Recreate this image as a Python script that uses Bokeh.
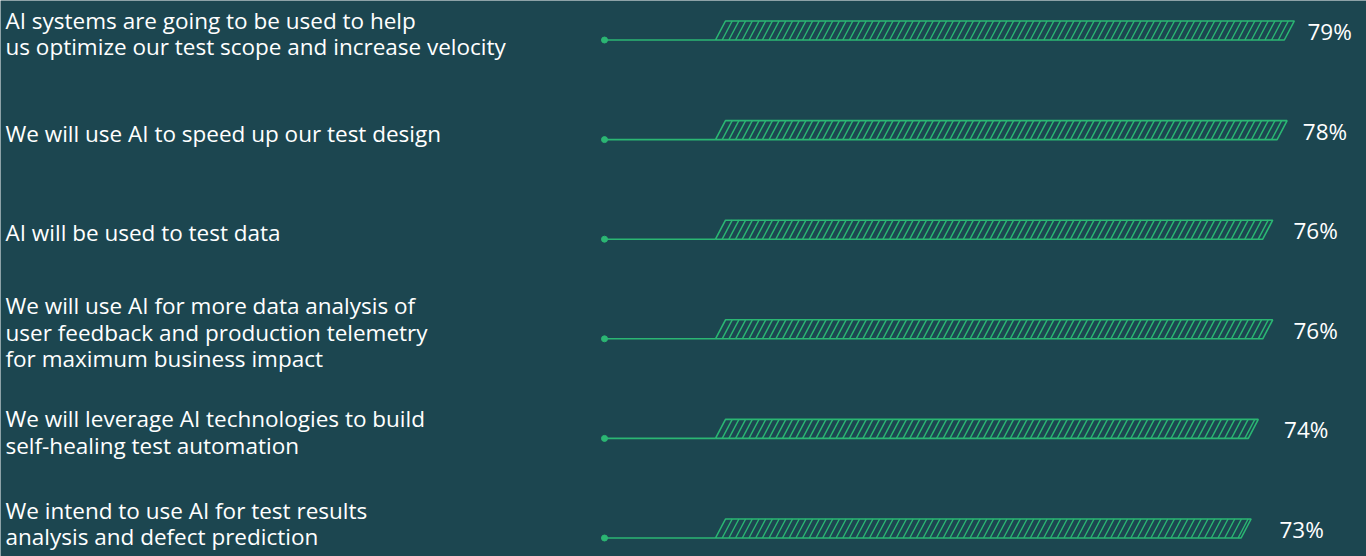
import numpy as np
from bokeh.plotting import figure
from bokeh.models import Range1d, ColumnDataSource
from bokeh.core.properties import value
from bokeh.embed import file_html
from bokeh.resources import INLINE

# ---- data ----
statements = [
    "AI systems are going to be used to help\nus optimize our test scope and increase velocity",
    "We will use AI to speed up our test design",
    "AI will be used to test data",
    "We will use AI for more data analysis of\nuser feedback and production telemetry\nfor maximum business impact",
    "We will leverage AI technologies to build\nself-healing test automation",
    "We intend to use AI for test results\nanalysis and defect prediction",
]
percentages = [79, 78, 76, 76, 74, 73]
pct_labels = [f"{v}%" for v in percentages]

# ---- style / layout ----
W, H = 1366, 556
BG = "#1c4650"
GREEN = "#2bb673"
TEXT = "#ffffff"
FONT = "Open Sans"
FONT_PX = 22.5
LINE_PX = 26

PX_PER_UNIT = 7.2          # horizontal pixels per percentage point
ZERO_PX = 725              # pixel position of 0% (top-left of bar)
ROW0_PX, ROW_STEP = 30, 99.6
BAR_H_PX = 19
SLANT_PX = 10
HATCH_PX = 6.7
LABEL_BASE_PX, LABEL_GAIN = 938, 4.67 / 7.2

def px2x(px):
    return (px - ZERO_PX) / PX_PER_UNIT

x_range = Range1d(px2x(0), px2x(W))
y_range = Range1d((H - ROW0_PX) / ROW_STEP, -ROW0_PX / ROW_STEP)

p = figure(width=W, height=H, x_range=x_range, y_range=y_range,
           output_backend="svg", toolbar_location=None,
           background_fill_color=BG, border_fill_color=BG,
           min_border=0, outline_line_color=None)
p.axis.visible = False
p.grid.visible = False

n = len(percentages)
rows = np.arange(n, dtype=float)
half_h = BAR_H_PX / 2 / ROW_STEP
slant = SLANT_PX / PX_PER_UNIT
vals = np.array(percentages, dtype=float)

# bar outlines (parallelograms)
xs, ys = [], []
for r, v in zip(rows, vals):
    xs.append([0, v, v - slant, -slant])
    ys.append([r - half_h, r - half_h, r + half_h, r + half_h])
p.patches(xs, ys, fill_color=None, line_color=GREEN, line_width=1.6)

# hatch lines
hx0, hy0, hx1, hy1 = [], [], [], []
step = HATCH_PX / PX_PER_UNIT
for r, v in zip(rows, vals):
    xb = -slant + step
    while xb < v - slant - step * 0.3:
        hx0.append(xb); hy0.append(r + half_h)
        hx1.append(xb + slant); hy1.append(r - half_h)
        xb += step
p.segment(hx0, hy0, hx1, hy1, line_color=GREEN, line_width=1.4)

# leader line + dot
dot_x = px2x(604)
p.segment([dot_x] * n, rows + half_h, [-slant] * n, rows + half_h,
          line_color=GREEN, line_width=1.6)
p.scatter([dot_x] * n, rows + half_h, size=6, color=GREEN)

# statement texts (text block centred a little below the bar, kept inside the canvas)
text_y = []
for r, s in zip(rows, statements):
    nl = s.count("\n") + 1
    centre_px = ROW0_PX + r * ROW_STEP + 3
    bottom_px = centre_px + nl * LINE_PX / 2 + 5
    if bottom_px > H - 2:
        centre_px -= bottom_px - (H - 2)
    text_y.append((centre_px - ROW0_PX) / ROW_STEP)
src = ColumnDataSource(dict(x=[px2x(5)] * n, y=text_y, t=statements))
p.text(x="x", y="y", text="t", source=src, text_color=TEXT,
       text_font=value(FONT), text_font_size=f"{FONT_PX}px",
       text_baseline="middle", text_align="left", text_line_height=0.85)

# percent labels
label_x = px2x(LABEL_BASE_PX) + LABEL_GAIN * vals
src2 = ColumnDataSource(dict(x=label_x, y=rows + 1 / ROW_STEP, t=pct_labels))
p.text(x="x", y="y", text="t", source=src2, text_color=TEXT,
       text_font=value(FONT), text_font_size=f"{FONT_PX}px",
       text_baseline="middle", text_align="left")

html = file_html(p, INLINE)
html = html.replace("<body>", f'<body style="margin:0;overflow:hidden;background:{BG};">', 1)
open("out.html", "w").write(html)
